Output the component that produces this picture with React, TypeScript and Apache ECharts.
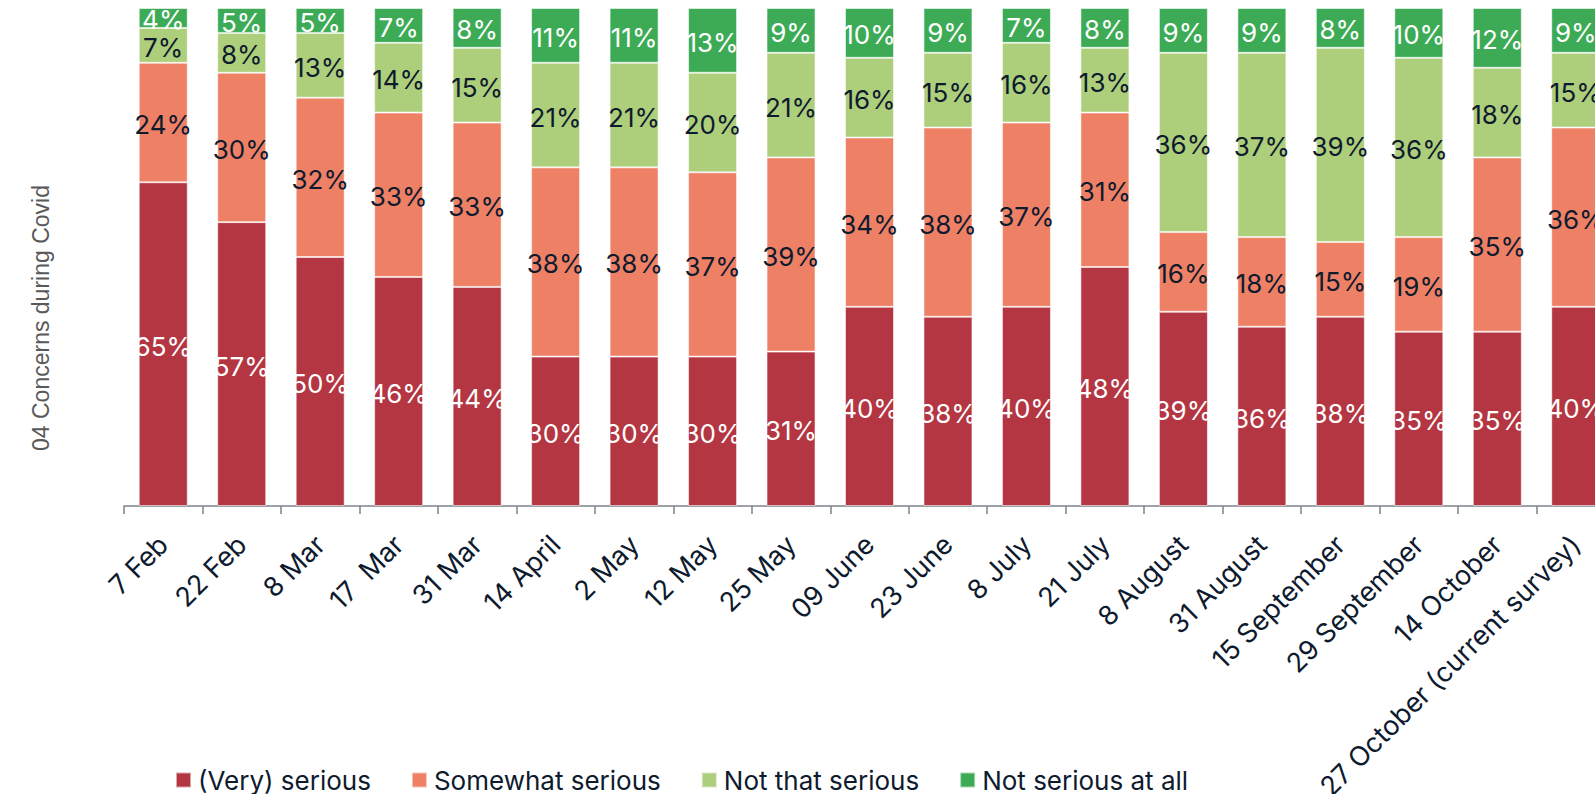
import React, { useEffect, useRef } from "react";
import * as echarts from "echarts";

const categories = [
  "7 Feb", "22 Feb", "8 Mar", "17  Mar", "31 Mar", "14 April", "2 May", "12 May", "25 May",
  "09 June", "23 June", "8 July", "21 July", "8 August", "31 August", "15 September",
  "29 September", "14 October", "27 October (current survey)",
];
const verySerious = [65, 57, 50, 46, 44, 30, 30, 30, 31, 40, 38, 40, 48, 39, 36, 38, 35, 35, 40];
const somewhatSerious = [24, 30, 32, 33, 33, 38, 38, 37, 39, 34, 38, 37, 31, 16, 18, 15, 19, 35, 36];
const notThatSerious = [7, 8, 13, 14, 15, 21, 21, 20, 21, 16, 15, 16, 13, 36, 37, 39, 36, 18, 15];
const notSeriousAtAll = [4, 5, 5, 7, 8, 11, 11, 13, 9, 10, 9, 7, 8, 9, 9, 8, 10, 12, 9];
const seriesNames = ["(Very) serious", "Somewhat serious", "Not that serious", "Not serious at all"];
const axisName = "04 Concerns during Covid";

const FONT = "Inter";
const DARK = "#0e1a2e";

export default function App() {
  const ref = useRef<HTMLDivElement>(null);
  useEffect(() => {
    if (!ref.current) return;
    const chart = echarts.init(ref.current, null, { renderer: "svg" });
    const mk = (name: string, data: number[], color: string, labelColor: string) => ({
      name,
      type: "bar",
      stack: "total",
      data,
      barWidth: 49,
      itemStyle: { color, borderColor: "rgba(255,255,255,0.55)", borderWidth: 1 },
      label: {
        show: true,
        position: "inside",
        formatter: "{c}%",
        color: labelColor,
        fontSize: 26,
        fontFamily: FONT,
        offset: [0, 2],
      },
    });
    chart.setOption({
      animation: false,
      backgroundColor: "#ffffff",
      grid: {
        left: 124,
        right: 25,
        top: 8,
        bottom: 288,
        containLabel: false,
        outerBoundsMode: "none",
      },
      xAxis: {
        type: "category",
        data: categories,
        axisLine: { lineStyle: { color: "#7d838c", width: 1.5 } },
        axisTick: { show: true, length: 8, lineStyle: { color: "#7d838c", width: 1.5 } },
        axisLabel: {
          interval: 0,
          rotate: 45,
          margin: 34,
          fontSize: 27,
          fontFamily: FONT,
          color: DARK,
        },
      },
      yAxis: { type: "value", min: 0, max: 100, show: false },
      legend: {
        left: 175,
        top: 767,
        padding: 0,
        itemWidth: 15,
        itemHeight: 15,
        itemGap: 40,
        icon: "rect",
        data: seriesNames,
        textStyle: { fontSize: 26, fontFamily: FONT, color: DARK, padding: [0, 0, 0, 2] },
      },
      graphic: [
        {
          type: "text",
          x: 41,
          y: 318,
          rotation: Math.PI / 2,
          style: {
            text: axisName,
            fontSize: 23,
            fontFamily: "Liberation Sans",
            fill: "#595959",
            align: "center",
            verticalAlign: "middle",
          },
        },
      ],
      series: [
        mk(seriesNames[0], verySerious, "#b33642", "#ffffff"),
        mk(seriesNames[1], somewhatSerious, "#ee8165", DARK),
        mk(seriesNames[2], notThatSerious, "#adce7a", DARK),
        mk(seriesNames[3], notSeriousAtAll, "#3dab56", "#ffffff"),
      ],
    });
    return () => chart.dispose();
  }, []);
  return (
    <div
      style={{
        position: "fixed",
        left: 0,
        top: 0,
        width: 1595,
        height: 794,
        overflow: "hidden",
        background: "#ffffff",
      }}
    >
      <div ref={ref} style={{ width: 1640, height: 794 }} />
    </div>
  );
}
